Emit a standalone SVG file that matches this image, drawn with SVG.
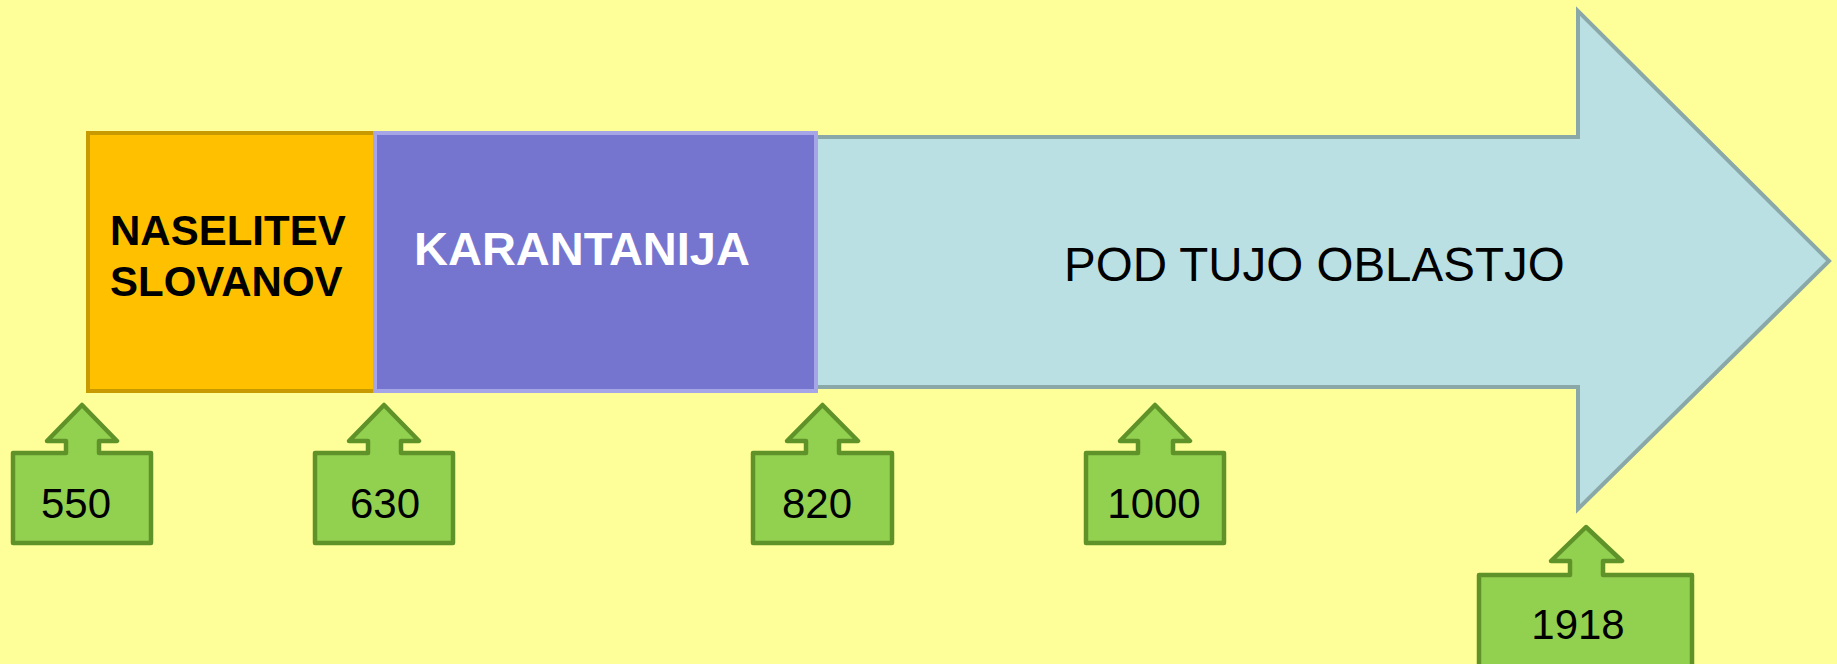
<svg xmlns="http://www.w3.org/2000/svg" width="1837" height="664" viewBox="0 0 1837 664">
<style>
.callout{fill:#92D050;stroke:#5F932A;stroke-width:4.5;stroke-linejoin:round}
.num{font-family:"Liberation Sans",Arial,sans-serif;font-size:42px;fill:#000;text-anchor:middle}
.bold{font-family:"Liberation Sans",Arial,sans-serif;font-weight:bold}
</style>
<rect x="0" y="0" width="1837" height="664" fill="#FFFF99"/>
<g id="pod-tujo-oblastjo">
<path d="M814,137 H1578 V11 L1829,261 L1578,509 V387 H814 Z" fill="#BAE0E3" stroke="#8BA8A8" stroke-width="4"/>
<text x="1064" y="281" font-family="Liberation Sans, Arial, sans-serif" font-size="47.5" fill="#000">POD TUJO OBLASTJO</text>
</g>
<g id="naselitev">
<rect x="88" y="133" width="287" height="258" fill="#FFC000" stroke="#C89A00" stroke-width="4"/>
<text class="bold" x="110" y="245" font-size="42" fill="#000">NASELITEV</text>
<text class="bold" x="110" y="296" font-size="42" fill="#000">SLOVANOV</text>
</g>
<g id="karantanija">
<rect x="375" y="133" width="441" height="258" fill="#7575D0" stroke="#A5A5E8" stroke-width="4"/>
<text class="bold" x="414" y="265" font-size="47" fill="#FFFFFF">KARANTANIJA</text>
</g>
<g id="connectors"></g>
<g id="y550">
<path class="callout" d="M82,405 L117,441 L99,441 L99,453 L151,453 L151,543 L13,543 L13,453 L66,453 L66,441 L47,441 Z"/>
<text class="num" x="76" y="518">550</text>
</g>
<g id="y630">
<path class="callout" d="M384,405 L419,441 L401,441 L401,453 L453,453 L453,543 L315,543 L315,453 L368,453 L368,441 L349,441 Z"/>
<text class="num" x="385" y="518">630</text>
</g>
<g id="y820">
<path class="callout" d="M822.5,405 L858,441 L839,441 L839,453 L892,453 L892,543 L753,543 L753,453 L806,453 L806,441 L787,441 Z"/>
<text class="num" x="817" y="518">820</text>
</g>
<g id="y1000">
<path class="callout" d="M1155,405 L1190,441 L1173,441 L1173,453 L1224,453 L1224,543 L1086,543 L1086,453 L1138,453 L1138,441 L1120,441 Z"/>
<text class="num" x="1154" y="518">1000</text>
</g>
<g id="y1918">
<path class="callout" d="M1586,527 L1622,561 L1603,561 L1603,575 L1692,575 L1692,672 L1479,672 L1479,575 L1570,575 L1570,561 L1551,561 Z"/>
<text class="num" x="1578" y="639">1918</text>
</g>
</svg>
